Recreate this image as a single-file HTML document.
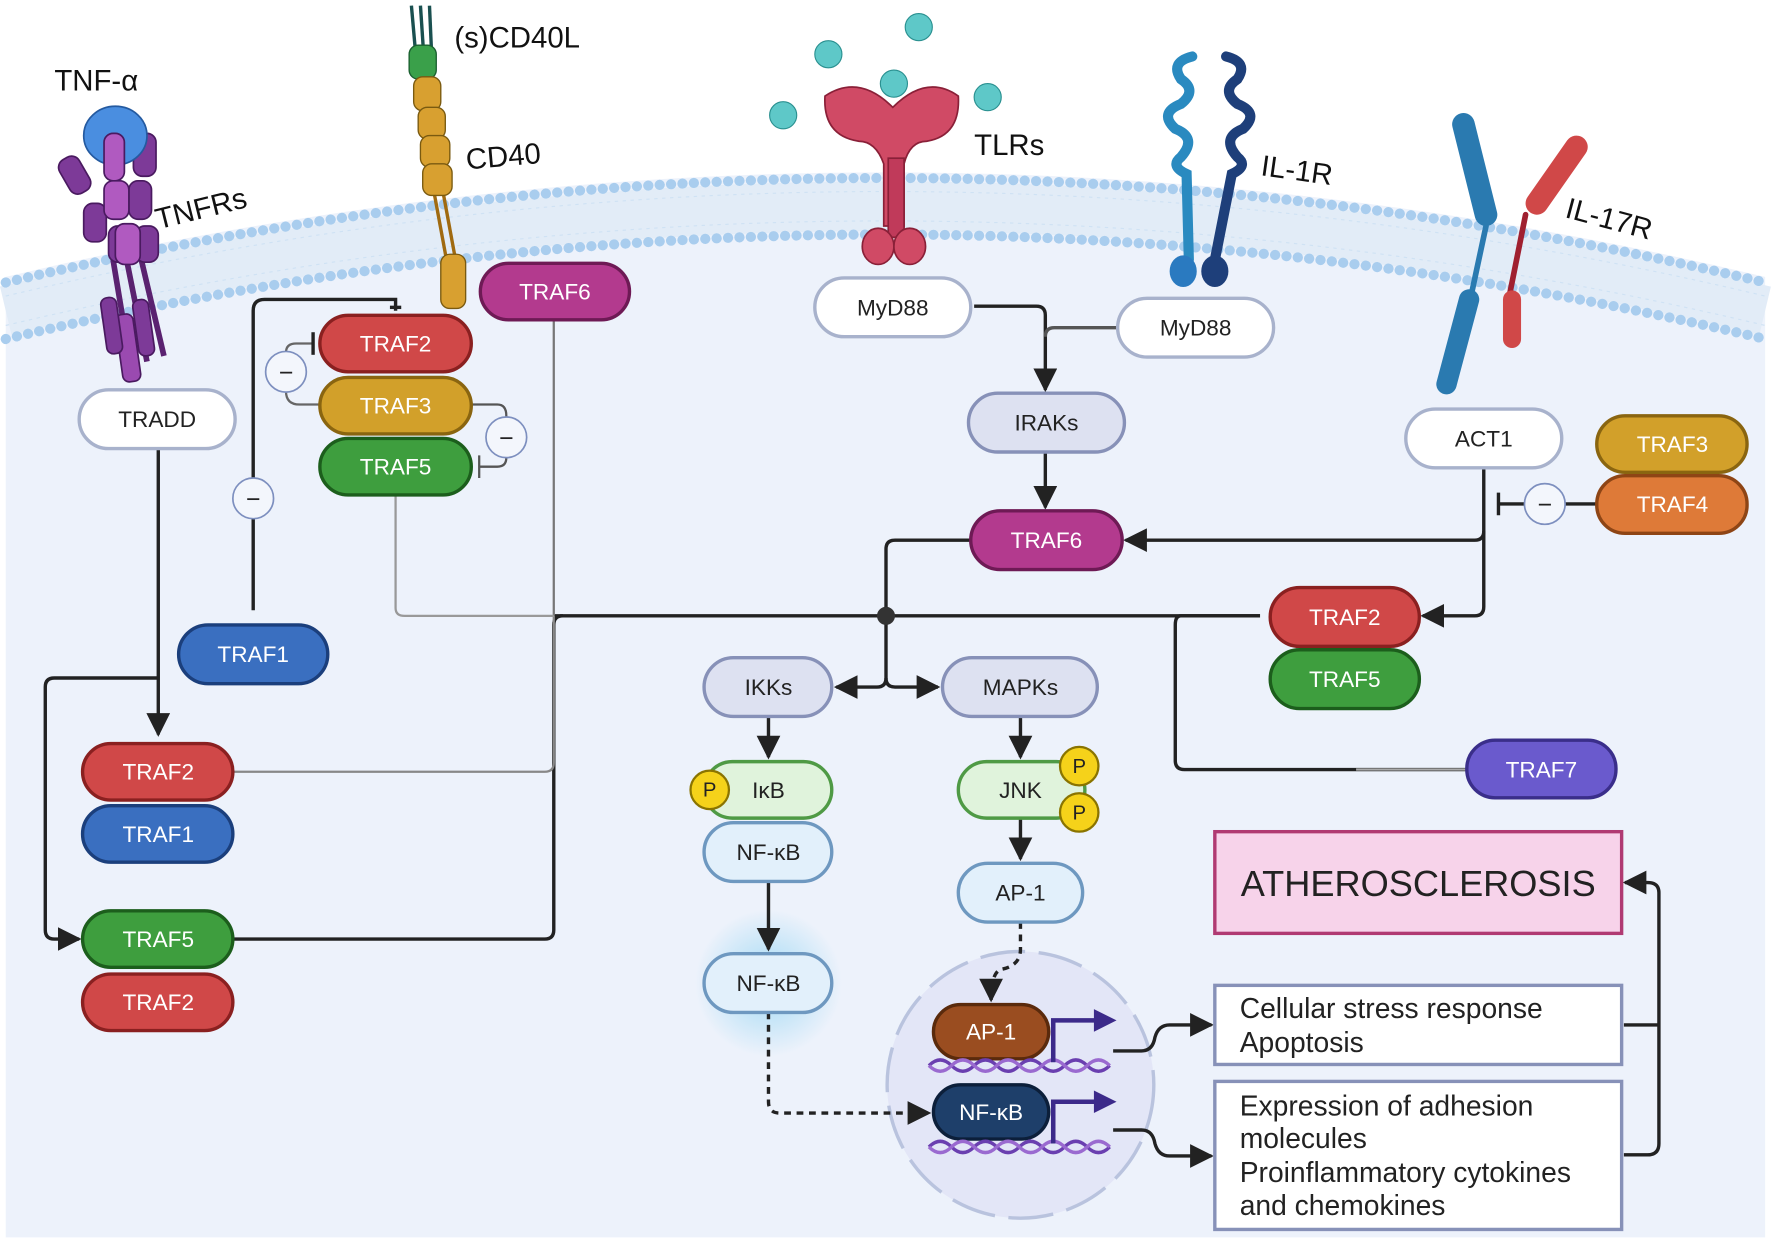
<!DOCTYPE html>
<html><head><meta charset="utf-8"><style>
html,body{margin:0;padding:0;background:#fff}
svg{display:block}
text{font-family:"Liberation Sans",sans-serif}
</style></head><body>
<svg width="1772" height="1243" viewBox="0 0 1568 1100" xmlns="http://www.w3.org/2000/svg">
<defs>
<marker id="ah" viewBox="0 0 10 10" refX="9" refY="5" markerWidth="7" markerHeight="7" orient="auto-start-reverse"><path d="M0,0 L10,5 L0,10 z" fill="#222"/></marker>
<radialGradient id="glow"><stop offset="0.4" stop-color="#bfe3f7"/><stop offset="1" stop-color="#bfe3f7" stop-opacity="0"/></radialGradient>
</defs>
<rect width="1568" height="1100" fill="#fff"/>
<!-- cell -->
<path d="M5,245 Q784,60 1562,245 L1562,1095 L5,1095 Z" fill="#edf2fb"/>
<!-- membrane -->
<path d="M5,275 Q784,90 1562,275" fill="none" stroke="#e2ecf7" stroke-width="44"/>
<path d="M5,250 Q784,65 1562,250" fill="none" stroke="#a9cdee" stroke-width="9" stroke-dasharray="0.1 10" stroke-linecap="round"/>
<path d="M5,300 Q784,115 1562,300" fill="none" stroke="#a9cdee" stroke-width="9" stroke-dasharray="0.1 10" stroke-linecap="round"/>
<path d="M5,262 Q784,77 1562,262 M5,288 Q784,103 1562,288" fill="none" stroke="#cfe2f4" stroke-width="1" stroke-dasharray="3 4"/>

<!-- glow & nucleus -->
<circle cx="680" cy="870" r="65" fill="url(#glow)"/>
<circle cx="903" cy="960" r="118" fill="#e3e6f7" stroke="#b9c3de" stroke-width="3" stroke-dasharray="40 12"/>

<!-- connectors -->
<g fill="none" stroke="#222" stroke-width="3">
<path d="M140,397 V650" marker-end="url(#ah)"/>
<path d="M140,600 H48 Q40,600 40,608 V823 Q40,831 48,831 H70" marker-end="url(#ah)"/>
<path d="M224,540 V275 Q224,265 234,265 H350 V275"/>
<path d="M345,272 H355"/>
<path d="M490,545 H1115"/>
<path d="M206,831 H482 Q490,831 490,823 V553 Q490,545 498,545"/>
<path d="M206,683 H482 Q490,683 490,675 V545" stroke="#888" stroke-width="2"/>
<path d="M490,283 V545" stroke="#777" stroke-width="2"/>
<path d="M350,438 V538 Q350,545 358,545 H490" stroke="#999" stroke-width="2"/>
<path d="M1115,545 H1045 Q1040,545 1040,553 V673 Q1040,681 1048,681 H1298" stroke="#222"/>
<path d="M1298,681 H1200" stroke="#aaa" stroke-width="2"/>
<path d="M859,478 H792 Q784,478 784,486 V600 Q784,608 776,608 H740" marker-end="url(#ah)"/>
<path d="M784,600 Q784,608 792,608 H830" marker-end="url(#ah)"/>
<path d="M862,271 H917 Q925,271 925,279 V345" marker-end="url(#ah)"/>
<path d="M989,290 H933 Q925,290 925,298" stroke="#555"/>
<path d="M925,400 V449" marker-end="url(#ah)"/>
<path d="M1313,414 V470 Q1313,478 1305,478 H996" marker-end="url(#ah)"/>
<path d="M1313,470 V537 Q1313,545 1305,545 H1259" marker-end="url(#ah)"/>
<path d="M1413,446 H1385 M1349,446 H1326 M1326,436 V456" stroke="#222"/>
<path d="M680,634 V670" marker-end="url(#ah)"/>
<path d="M903,634 V670" marker-end="url(#ah)"/>
<path d="M680,780 V840" marker-end="url(#ah)"/>
<path d="M903,724 V760" marker-end="url(#ah)"/>
<path d="M680,896 V975 Q680,985 690,985 H822" stroke-dasharray="6 5" marker-end="url(#ah)"/>
<path d="M903,816 V840 Q903,855 885,858 Q877,862 877,885" stroke-dasharray="6 5" marker-end="url(#ah)"/>
<path d="M985,930 H1010 Q1020,930 1022,918 Q1025,907 1035,907 H1072" marker-end="url(#ah)"/>
<path d="M985,1000 H1010 Q1020,1000 1022,1012 Q1025,1023 1035,1023 H1072" marker-end="url(#ah)"/>
<path d="M1437,907 H1468 M1437,1022 H1458 Q1468,1022 1468,1012 V790 Q1468,781 1458,781 H1438" stroke="#222" marker-end="url(#ah)"/>
<path d="M277,304 H262 Q253,304 253,312 V346 Q253,358 265,358 H283" stroke="#666" stroke-width="2"/>
<path d="M277,294 V314" stroke="#222" stroke-width="3"/>
<path d="M417,358 H440 Q448,358 448,368 V405 Q448,413 440,413 H424 M424,403 V423" stroke="#555" stroke-width="2"/>
</g>
<circle cx="784" cy="545" r="8" fill="#333"/>

<!-- minus circles -->
<g fill="#f3f6fc" stroke="#7d8fbf" stroke-width="1.5">
<circle cx="253" cy="329" r="18"/><circle cx="448" cy="387" r="18"/><circle cx="224" cy="441" r="18"/><circle cx="1367" cy="446" r="18"/>
</g>
<g font-size="22" text-anchor="middle" fill="#222"><text x="253" y="337">−</text><text x="448" y="395">−</text><text x="224" y="449">−</text><text x="1367" y="454">−</text></g>

<!-- nodes -->
<g font-size="20" text-anchor="middle">
<g stroke-width="3">
<rect x="70" y="345" width="138" height="52" rx="26" fill="#fff" stroke="#a8b2cc"/>
<rect x="283" y="279" width="134" height="50" rx="25" fill="#d04848" stroke="#8a2020"/>
<rect x="283" y="334" width="134" height="50" rx="25" fill="#d2a02a" stroke="#8a6510"/>
<rect x="283" y="388" width="134" height="50" rx="25" fill="#3e9e3e" stroke="#1c5e1c"/>
<rect x="425" y="233" width="132" height="50" rx="25" fill="#b33a8e" stroke="#6e1a55"/>
<rect x="158" y="553" width="132" height="52" rx="26" fill="#3a6fc0" stroke="#1b3f7c"/>
<rect x="73" y="658" width="133" height="50" rx="25" fill="#d04848" stroke="#8a2020"/>
<rect x="73" y="713" width="133" height="50" rx="25" fill="#3a6fc0" stroke="#1b3f7c"/>
<rect x="73" y="806" width="133" height="50" rx="25" fill="#3e9e3e" stroke="#1c5e1c"/>
<rect x="73" y="862" width="133" height="50" rx="25" fill="#d04848" stroke="#8a2020"/>
<rect x="721" y="246" width="138" height="52" rx="26" fill="#fff" stroke="#a8b2cc"/>
<rect x="989" y="264" width="138" height="52" rx="26" fill="#fff" stroke="#a8b2cc"/>
<rect x="857" y="348" width="138" height="52" rx="26" fill="#dde1f1" stroke="#8791b8"/>
<rect x="859" y="452" width="134" height="52" rx="26" fill="#b33a8e" stroke="#6e1a55"/>
<rect x="1244" y="362" width="138" height="52" rx="26" fill="#fff" stroke="#a8b2cc"/>
<rect x="1413" y="368" width="133" height="50" rx="25" fill="#d2a02a" stroke="#8a6510"/>
<rect x="1413" y="421" width="133" height="51" rx="25" fill="#de7a38" stroke="#8e4515"/>
<rect x="1124" y="520" width="132" height="52" rx="26" fill="#d04848" stroke="#8a2020"/>
<rect x="1124" y="575" width="132" height="52" rx="26" fill="#3e9e3e" stroke="#1c5e1c"/>
<rect x="1298" y="655" width="132" height="51" rx="25" fill="#6a5acd" stroke="#3a2e8a"/>
<rect x="623" y="582" width="113" height="52" rx="26" fill="#dde1f1" stroke="#8791b8"/>
<rect x="834" y="582" width="137" height="52" rx="26" fill="#dde1f1" stroke="#8791b8"/>
<rect x="623" y="674" width="113" height="50" rx="25" fill="#e0f3dc" stroke="#4f9a45"/>
<rect x="623" y="728" width="113" height="52" rx="26" fill="#e2f0fb" stroke="#6e98c0"/>
<rect x="848" y="674" width="112" height="50" rx="25" fill="#e0f3dc" stroke="#4f9a45"/>
<rect x="848" y="764" width="110" height="52" rx="26" fill="#e2f0fb" stroke="#6e98c0"/>
<rect x="623" y="844" width="113" height="52" rx="26" fill="#e2f0fb" stroke="#6e98c0"/>
<rect x="826" y="889" width="102" height="48" rx="24" fill="#9a4d20" stroke="#5a2a0c"/>
<rect x="826" y="960" width="102" height="48" rx="24" fill="#1e3f6a" stroke="#0c1f3a"/>
</g>
<g fill="#222">
<text x="139" y="378">TRADD</text><text x="790" y="279">MyD88</text><text x="1058" y="297">MyD88</text>
<text x="926" y="381">IRAKs</text><text x="1313" y="395">ACT1</text>
<text x="680" y="615">IKKs</text><text x="903" y="615">MAPKs</text>
<text x="680" y="706">IκB</text><text x="680" y="761">NF-κB</text><text x="903" y="706">JNK</text>
<text x="903" y="797">AP-1</text><text x="680" y="877">NF-κB</text>
</g>
<g fill="#fff">
<text x="350" y="311">TRAF2</text><text x="350" y="366">TRAF3</text><text x="350" y="420">TRAF5</text>
<text x="491" y="265">TRAF6</text><text x="224" y="586">TRAF1</text>
<text x="140" y="690">TRAF2</text><text x="140" y="745">TRAF1</text><text x="140" y="838">TRAF5</text><text x="140" y="894">TRAF2</text>
<text x="926" y="485">TRAF6</text><text x="1480" y="400">TRAF3</text><text x="1480" y="453">TRAF4</text>
<text x="1190" y="553">TRAF2</text><text x="1190" y="608">TRAF5</text><text x="1364" y="688">TRAF7</text>
<text x="877" y="920">AP-1</text><text x="877" y="991">NF-κB</text>
</g>
</g>
<g fill="#f5d21a" stroke="#8a7400" stroke-width="2"><circle cx="628" cy="699" r="17"/><circle cx="955" cy="678" r="17"/><circle cx="955" cy="719" r="17"/></g>
<g font-size="18" text-anchor="middle" fill="#222"><text x="628" y="705">P</text><text x="955" y="684">P</text><text x="955" y="725">P</text></g>

<!-- DNA & gene arrows -->
<g fill="none" stroke="#6a3fb0" stroke-width="3">
<path d="M822,943 q10,-10 20,0 t20,0 t20,0 t20,0 t20,0 t20,0 t20,0 t20,0"/>
<path d="M822,943 q10,10 20,0 t20,0 t20,0 t20,0 t20,0 t20,0 t20,0 t20,0" stroke="#9a6ad0"/>
<path d="M822,1015 q10,-10 20,0 t20,0 t20,0 t20,0 t20,0 t20,0 t20,0 t20,0"/>
<path d="M822,1015 q10,10 20,0 t20,0 t20,0 t20,0 t20,0 t20,0 t20,0 t20,0" stroke="#9a6ad0"/>
<path d="M932,940 V903 H970" stroke="#3c2a8a" stroke-width="4"/>
<path d="M932,1012 V975 H970" stroke="#3c2a8a" stroke-width="4"/>
</g>
<path d="M968,893 L988,903 L968,913 Z M968,965 L988,975 L968,985 Z" fill="#3c2a8a"/>

<!-- outcome boxes -->
<rect x="1075" y="736" width="360" height="90" fill="#f7d3ea" stroke="#b03a72" stroke-width="3"/>
<text x="1255" y="793" font-size="32" text-anchor="middle" fill="#222">ATHEROSCLEROSIS</text>
<rect x="1075" y="872" width="360" height="70" fill="#fff" stroke="#8791b8" stroke-width="3"/>
<text x="1097" y="901" font-size="25" fill="#222">Cellular stress response</text>
<text x="1097" y="931" font-size="25" fill="#222">Apoptosis</text>
<rect x="1075" y="957" width="360" height="131" fill="#fff" stroke="#8791b8" stroke-width="3"/>
<g font-size="25" fill="#222"><text x="1097" y="987">Expression of adhesion</text><text x="1097" y="1016">molecules</text><text x="1097" y="1046">Proinflammatory cytokines</text><text x="1097" y="1075">and chemokines</text></g>

<!-- receptors -->
<g stroke="#4a1a60" stroke-width="1.5">
<line x1="112" y1="230" x2="130" y2="320" stroke="#5a2270" stroke-width="5"/>
<line x1="100" y1="230" x2="115" y2="320" stroke="#5a2270" stroke-width="5"/>
<line x1="125" y1="230" x2="145" y2="315" stroke="#5a2270" stroke-width="5"/>
<rect x="56" y="138" width="20" height="34" rx="8" fill="#7d3a98" transform="rotate(-30 66 155)"/>
<rect x="74" y="180" width="20" height="34" rx="8" fill="#7d3a98"/>
<rect x="118" y="118" width="20" height="38" rx="8" fill="#7d3a98"/>
<rect x="114" y="160" width="20" height="34" rx="8" fill="#7d3a98"/>
<rect x="96" y="200" width="22" height="32" rx="8" fill="#7d3a98"/>
<rect x="120" y="200" width="20" height="32" rx="8" fill="#7d3a98"/>
<ellipse cx="102" cy="120" rx="28" ry="26" fill="#4a8ee0" stroke="#245aa0"/>
<rect x="92" y="118" width="18" height="42" rx="8" fill="#b05ac0"/>
<rect x="92" y="160" width="22" height="34" rx="8" fill="#b05ac0"/>
<rect x="102" y="198" width="22" height="36" rx="8" fill="#b05ac0"/>
<rect x="104" y="278" width="16" height="60" rx="6" fill="#9a4ab0" transform="rotate(-8 112 300)"/>
<rect x="120" y="265" width="14" height="50" rx="6" fill="#7d3a98" transform="rotate(-8 127 290)"/>
<rect x="92" y="263" width="14" height="50" rx="6" fill="#7d3a98" transform="rotate(-8 100 290)"/>
</g>
<text x="48" y="80" font-size="26" fill="#111">TNF-α</text>
<text x="140" y="203" font-size="26" fill="#111" transform="rotate(-14 140 203)">TNFRs</text>
<g stroke="#7a5a10" stroke-width="1.2">
<line x1="364" y1="5" x2="368" y2="50" stroke="#1a5050" stroke-width="3"/><line x1="372" y1="5" x2="375" y2="50" stroke="#1a5050" stroke-width="3"/><line x1="380" y1="5" x2="382" y2="50" stroke="#1a5050" stroke-width="3"/>
<line x1="384" y1="170" x2="396" y2="235" stroke="#a06a10" stroke-width="3"/><line x1="392" y1="170" x2="404" y2="235" stroke="#a06a10" stroke-width="3"/>
<rect x="362" y="40" width="24" height="30" rx="8" fill="#3aa04a" stroke="#1a6030"/>
<rect x="366" y="68" width="24" height="30" rx="8" fill="#d8a030"/>
<rect x="370" y="95" width="24" height="28" rx="8" fill="#d8a030"/>
<rect x="372" y="120" width="26" height="28" rx="8" fill="#d8a030"/>
<rect x="374" y="145" width="26" height="28" rx="8" fill="#d8a030"/>
<rect x="390" y="225" width="22" height="48" rx="8" fill="#d8a030"/>
</g>
<text x="402" y="42" font-size="26" fill="#111">(s)CD40L</text>
<text x="413" y="150" font-size="26" fill="#111" transform="rotate(-5 413 150)">CD40</text>
<g fill="#d04a65" stroke="#8a2038" stroke-width="1.5">
<path d="M730,85 Q760,65 790,95 Q820,65 848,85 Q850,120 820,125 Q805,125 800,145 L800,200 L782,200 L782,145 Q775,125 760,125 Q728,120 730,85 Z"/>
<rect x="786" y="140" width="14" height="70" fill="#c03a5a"/>
<ellipse cx="777" cy="218" rx="14" ry="16"/><ellipse cx="805" cy="218" rx="14" ry="16"/>
</g>
<g fill="#5ec8c8" stroke="#2a9090" stroke-width="1"><circle cx="733" cy="48" r="12"/><circle cx="813" cy="24" r="12"/><circle cx="693" cy="102" r="12"/><circle cx="791" cy="74" r="12"/><circle cx="874" cy="86" r="12"/></g>
<text x="862" y="137" font-size="26" fill="#111">TLRs</text>
<g fill="none" stroke-width="9" stroke-linecap="round">
<path d="M1055,50 q-20,5 -10,20 q15,10 0,22 q-20,8 -5,22 q20,8 5,25 q-10,8 5,15 L1052,230" stroke="#2a8ac0"/>
<path d="M1085,50 q20,5 10,20 q-15,10 0,22 q20,8 5,22 q-20,8 -5,25 q10,8 -5,15 L1075,230" stroke="#1e3f7a"/>
</g>
<ellipse cx="1047" cy="240" rx="12" ry="14" fill="#2a7ac0"/><ellipse cx="1075" cy="240" rx="12" ry="14" fill="#1e3f7a"/>
<text x="1115" y="155" font-size="26" fill="#111" transform="rotate(8 1115 155)">IL-1R</text>
<g stroke-linecap="round">
<line x1="1295" y1="110" x2="1315" y2="190" stroke="#2a7ab0" stroke-width="20"/>
<line x1="1315" y1="200" x2="1300" y2="270" stroke="#2a7ab0" stroke-width="5"/>
<line x1="1300" y1="265" x2="1280" y2="340" stroke="#2a7ab0" stroke-width="18"/>
<line x1="1395" y1="130" x2="1360" y2="180" stroke="#d04848" stroke-width="20"/>
<line x1="1350" y1="190" x2="1335" y2="265" stroke="#a02030" stroke-width="5"/>
<line x1="1338" y1="265" x2="1338" y2="300" stroke="#d04848" stroke-width="16"/>
</g>
<text x="1384" y="192" font-size="26" fill="#111" transform="rotate(15 1384 192)">IL-17R</text>
</svg>
</body></html>
